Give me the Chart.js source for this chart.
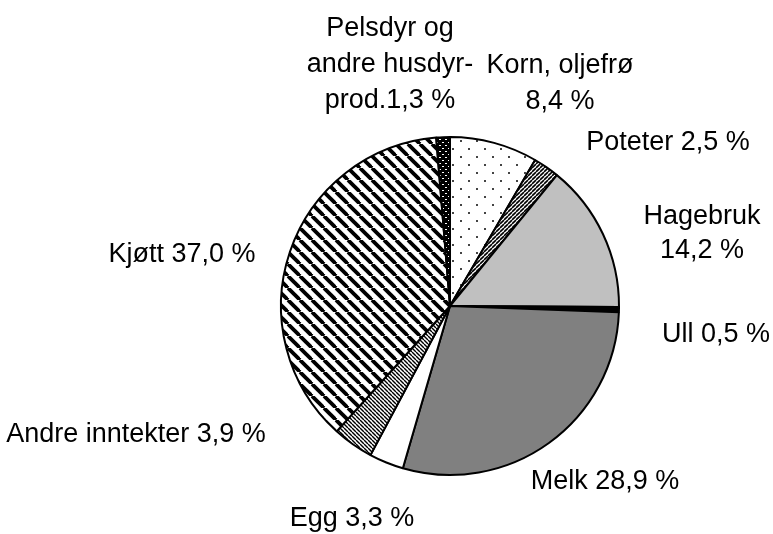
<!DOCTYPE html>
<html>
<head>
<meta charset="utf-8">
<script src="https://cdn.jsdelivr.net/npm/chart.js@4/dist/chart.umd.min.js"></script>
<style>
    html, body { margin: 0; padding: 0; background: #fff; }
    #wrap { width: 773px; height: 534px; }
</style>
</head>
<body>
<div id="wrap"><canvas id="pieChart" width="773" height="534"></canvas></div>
<script>
var categories = ['Korn, oljefrø', 'Poteter', 'Hagebruk', 'Ull', 'Melk', 'Egg', 'Andre inntekter', 'Kjøtt', 'Pelsdyr og andre husdyr-prod.'];
var shares = [8.4, 2.5, 14.2, 0.5, 28.9, 3.3, 3.9, 37.0, 1.3];
var labelLines = [
    ['Korn, oljefrø', '8,4 %'],
    ['Poteter 2,5 %'],
    ['Hagebruk', '14,2 %'],
    ['Ull 0,5 %'],
    ['Melk 28,9 %'],
    ['Egg 3,3 %'],
    ['Andre inntekter 3,9 %'],
    ['Kjøtt 37,0 %'],
    ['Pelsdyr og', 'andre husdyr-', 'prod.1,3 %']
];

(function () {
    function tile(w, h, draw) {
        var c = document.createElement('canvas');
        c.width = w;
        c.height = h;
        var g = c.getContext('2d');
        draw(g);
        return document.createElement('canvas').getContext('2d').createPattern(c, 'repeat');
    }

    // diagonal stripes, dir 1 = "\" , dir -1 = "/"
    function stripes(size, width, dir, bg, fg) {
        return tile(size, size, function (g) {
            g.fillStyle = bg;
            g.fillRect(0, 0, size, size);
            g.strokeStyle = fg;
            g.lineWidth = width;
            for (var k = -1; k <= 1; k++) {
                g.beginPath();
                if (dir > 0) {
                    g.moveTo(k * size, 0);
                    g.lineTo(k * size + size, size);
                } else {
                    g.moveTo(k * size, size);
                    g.lineTo(k * size + size, 0);
                }
                g.stroke();
            }
        });
    }

    var dots = tile(16, 16, function (g) {
        g.fillStyle = '#fff';
        g.fillRect(0, 0, 16, 16);
        g.fillStyle = '#444';
        g.fillRect(4, 4, 2, 2);
        g.fillRect(12, 12, 2, 2);
    });

    var furs = tile(6, 6, function (g) {
        g.fillStyle = '#000';
        g.fillRect(0, 0, 6, 6);
        g.fillStyle = '#fff';
        g.fillRect(1, 1, 2, 1);
        g.fillRect(4, 4, 2, 1);
    });

    var fills = [
        dots,
        stripes(4, 1.6, -1, '#fff', '#000'),
        '#c0c0c0',
        '#000',
        '#808080',
        '#fff',
        stripes(4, 1.4, 1, '#fff', '#000'),
        stripes(12, 3.8, 1, '#fff', '#000'),
        furs
    ];

    var labelPos = [
        [560, [66, 102]],
        [668, [143]],
        [702, [217, 251]],
        [716, [335]],
        [605, [482]],
        [352, [519]],
        [136, [435]],
        [182, [255]],
        [390, [29, 65, 101]]
    ];

    var sliceLabels = {
        id: 'sliceLabels',
        afterDraw: function (chart) {
            var ctx = chart.ctx;
            ctx.save();
            ctx.fillStyle = '#000';
            ctx.font = '27px "Liberation Sans", Arial, sans-serif';
            ctx.textAlign = 'center';
            ctx.textBaseline = 'middle';
            labelLines.forEach(function (lines, i) {
                var p = labelPos[i];
                lines.forEach(function (txt, j) {
                    ctx.fillText(txt, p[0], p[1][j]);
                });
            });
            ctx.restore();
        }
    };

    document.addEventListener('DOMContentLoaded', function () {
        new Chart(document.getElementById('pieChart'), {
            type: 'pie',
            data: {
                labels: categories,
                datasets: [{
                    data: shares,
                    backgroundColor: fills,
                    borderColor: '#000',
                    borderWidth: 2,
                    radius: 169
                }]
            },
            options: {
                responsive: false,
                animation: false,
                layout: { padding: { left: 270, right: 143, top: 126, bottom: 48 } },
                plugins: {
                    legend: { display: false },
                    tooltip: { enabled: false }
                }
            },
            plugins: [sliceLabels]
        });
    });
})();
</script>
</body>
</html>
